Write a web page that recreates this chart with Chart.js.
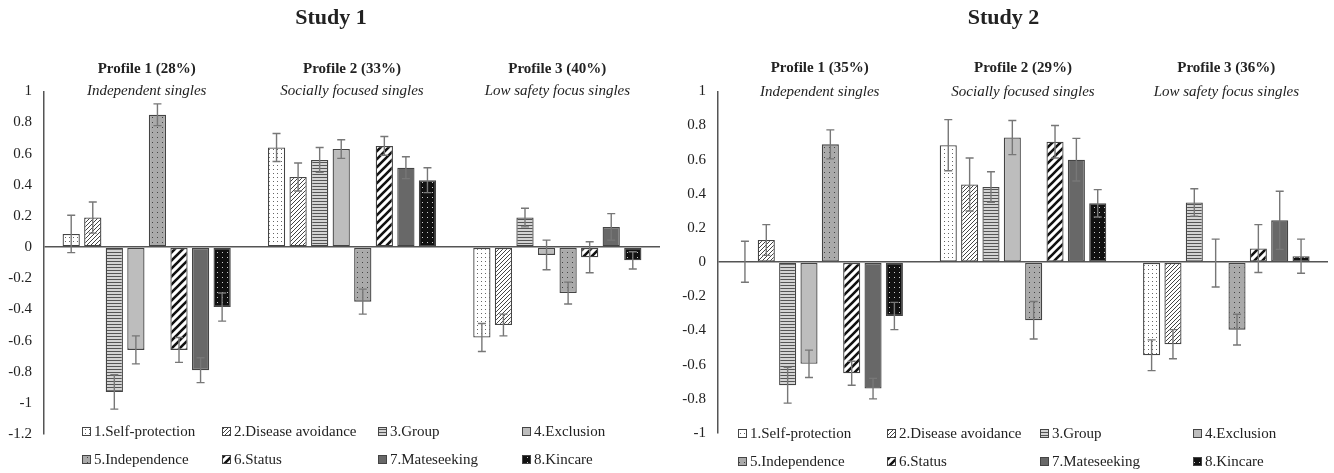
<!DOCTYPE html>
<html>
<head>
<meta charset="utf-8">
<script src="https://cdn.jsdelivr.net/npm/chart.js@4.4.1/dist/chart.umd.min.js"></script>
<style>
  body { margin: 0; background: #fff; }
  .panel { position: absolute; top: 0; width: 667px; height: 473px; }
  #left { left: 0; }
  #right { left: 667px; }
</style>
</head>
<body>
<div class="panel" id="left"><canvas id="study1Chart"></canvas></div>
<div class="panel" id="right"><canvas id="study2Chart"></canvas></div>
<script>
const motives = ['1.Self-protection', '2.Disease avoidance', '3.Group', '4.Exclusion',
                 '5.Independence', '6.Status', '7.Mateseeking', '8.Kincare'];

const study1Profiles = ['Profile 1 (28%)', 'Profile 2 (33%)', 'Profile 3 (40%)'];
const study2Profiles = ['Profile 1 (35%)', 'Profile 2 (29%)', 'Profile 3 (36%)'];
const profileNames = ['Independent singles', 'Socially focused singles', 'Low safety focus singles'];

// means per profile, in motive order
const study1P1 = [0.085, 0.19, -0.93, -0.66, 0.85, -0.66, -0.79, -0.385];
const study1P2 = [0.64, 0.45, 0.56, 0.63, -0.35, 0.65, 0.51, 0.43];
const study1P3 = [-0.58, -0.50, 0.19, -0.05, -0.295, -0.065, 0.13, -0.085];
const study1P1Err = [0.12, 0.10, 0.11, 0.09, 0.07, 0.08, 0.08, 0.09];
const study1P2Err = [0.09, 0.09, 0.08, 0.06, 0.08, 0.06, 0.07, 0.08];
const study1P3Err = [0.09, 0.07, 0.06, 0.095, 0.07, 0.10, 0.085, 0.055];

const study2P1 = [0.003, 0.13, -0.72, -0.595, 0.69, -0.65, -0.74, -0.315];
const study2P2 = [0.685, 0.455, 0.44, 0.73, -0.34, 0.705, 0.60, 0.345];
const study2P3 = [-0.545, -0.48, 0.35, -0.005, -0.395, 0.08, 0.245, 0.035];
const study2P1Err = [0.12, 0.09, 0.105, 0.08, 0.085, 0.07, 0.06, 0.08];
const study2P2Err = [0.15, 0.155, 0.09, 0.10, 0.11, 0.095, 0.125, 0.08];
const study2P3Err = [0.09, 0.085, 0.08, 0.14, 0.09, 0.14, 0.17, 0.10];

const SERIF = '"Liberation Serif", "DejaVu Serif", serif';

function tile(w, h, bg, draw) {
    const c = document.createElement('canvas');
    c.width = w; c.height = h;
    const g = c.getContext('2d');
    g.fillStyle = bg;
    g.fillRect(0, 0, w, h);
    draw(g);
    return c.getContext('2d').createPattern(c, 'repeat');
}

const fills = [
    tile(4, 4, '#ffffff', g => { g.fillStyle = '#666'; g.fillRect(1, 1, 1, 1); }),
    tile(4, 4, '#ffffff', g => { g.strokeStyle = '#444'; g.lineWidth = 1; g.beginPath(); g.moveTo(-1, 5); g.lineTo(5, -1); g.stroke(); }),
    tile(3, 3, '#d4d4d4', g => { g.fillStyle = '#555'; g.fillRect(0, 0, 3, 1); }),
    '#bdbdbd',
    tile(5, 5, '#aaaaaa', g => { g.fillStyle = '#444'; g.fillRect(2, 2, 1, 1); }),
    tile(8, 8, '#ffffff', g => { g.strokeStyle = '#111'; g.lineWidth = 2.6; g.beginPath(); g.moveTo(-2, 10); g.lineTo(10, -2); g.moveTo(-6, 6); g.lineTo(6, -6); g.moveTo(2, 14); g.lineTo(14, 2); g.stroke(); }),
    '#686868',
    tile(5, 5, '#111111', g => { g.fillStyle = '#ccc'; g.fillRect(2, 2, 1, 1); })
];

function buildDatasets(p1, p2, p3, e1, e2, e3) {
    return motives.map((m, i) => ({
        label: m,
        data: [p1[i], p2[i], p3[i]],
        errors: [e1[i], e2[i], e3[i]],
        backgroundColor: fills[i],
        borderColor: '#444',
        borderWidth: 1.3,
        borderSkipped: false,
        barPercentage: 0.8,
        categoryPercentage: 0.84
    }));
}

const extrasPlugin = {
    id: 'extras',
    afterDatasetsDraw(chart) {
        const ctx = chart.ctx;
        const y = chart.scales.y;
        ctx.save();
        ctx.strokeStyle = '#777';
        ctx.lineWidth = 1.4;
        chart.data.datasets.forEach((ds, di) => {
            chart.getDatasetMeta(di).data.forEach((bar, i) => {
                const v = ds.data[i], e = ds.errors[i];
                const yTop = y.getPixelForValue(v + e);
                const yBot = y.getPixelForValue(v - e);
                ctx.beginPath();
                ctx.moveTo(bar.x, yTop); ctx.lineTo(bar.x, yBot);
                ctx.moveTo(bar.x - 4, yTop); ctx.lineTo(bar.x + 4, yTop);
                ctx.moveTo(bar.x - 4, yBot); ctx.lineTo(bar.x + 4, yBot);
                ctx.stroke();
            });
        });
        ctx.restore();
    },
    afterDraw(chart, args, opts) {
        const ctx = chart.ctx;
        const x = chart.scales.x;
        ctx.save();
        ctx.fillStyle = '#222';
        ctx.textAlign = 'center';
        ctx.textBaseline = 'middle';
        chart.data.labels.forEach((lab, i) => {
            const px = x.getPixelForValue(i);
            ctx.font = 'bold 15px ' + SERIF;
            ctx.fillText(lab, px, opts.headY);
            ctx.font = 'italic 15px ' + SERIF;
            ctx.fillText(profileNames[i], px, opts.subY);
        });
        ctx.textAlign = 'left';
        ctx.font = '15px ' + SERIF;
        chart.data.datasets.forEach((ds, i) => {
            const lx = opts.legendX[i % 4];
            const ly = opts.legendY[Math.floor(i / 4)];
            ctx.fillStyle = ds.backgroundColor;
            ctx.fillRect(lx, ly - 5, 9, 9);
            ctx.strokeStyle = '#444';
            ctx.lineWidth = 1;
            ctx.strokeRect(lx + 0.5, ly - 4.5, 8, 8);
            ctx.fillStyle = '#222';
            ctx.fillText(ds.label, lx + 12, ly);
        });
        ctx.restore();
    }
};

function drawStudy(id, title, labels, datasets, yMin, padding, axisWidth, extras) {
    new Chart(document.getElementById(id), {
        type: 'bar',
        data: { labels: labels, datasets: datasets },
        plugins: [extrasPlugin],
        options: {
            responsive: true,
            maintainAspectRatio: false,
            animation: false,
            layout: { padding: padding },
            plugins: {
                legend: { display: false },
                tooltip: { enabled: false },
                title: {
                    display: true,
                    text: title,
                    color: '#222',
                    font: { family: SERIF, size: 22, weight: 'bold' },
                    padding: { top: 5, bottom: 60 }
                },
                extras: extras
            },
            scales: {
                x: { display: false },
                y: {
                    min: yMin,
                    max: 1,
                    afterFit: s => { s.width = axisWidth; },
                    border: { color: '#555', width: 1.5 },
                    grid: {
                        drawTicks: false,
                        lineWidth: 1.5,
                        color: c => Math.abs(c.tick.value) < 1e-9 ? '#555' : 'transparent'
                    },
                    ticks: {
                        stepSize: 0.2,
                        padding: 12,
                        color: '#222',
                        font: { family: SERIF, size: 15 },
                        callback: v => String(Math.round(v * 10) / 10)
                    }
                }
            }
        }
    });
}

drawStudy('study1Chart', 'Study 1', study1Profiles,
    buildDatasets(study1P1, study1P2, study1P3, study1P1Err, study1P2Err, study1P3Err),
    -1.2, { top: 0, left: 2, right: 7, bottom: 39 }, 42,
    { headY: 69, subY: 91, legendX: [82, 222, 378, 522], legendY: [432, 460] });

drawStudy('study2Chart', 'Study 2', study2Profiles,
    buildDatasets(study2P1, study2P2, study2P3, study2P1Err, study2P2Err, study2P3Err),
    -1, { top: 0, left: 12, right: 6, bottom: 40 }, 39,
    { headY: 68, subY: 92, legendX: [71, 220, 373, 526], legendY: [434, 462] });
</script>
</body>
</html>
